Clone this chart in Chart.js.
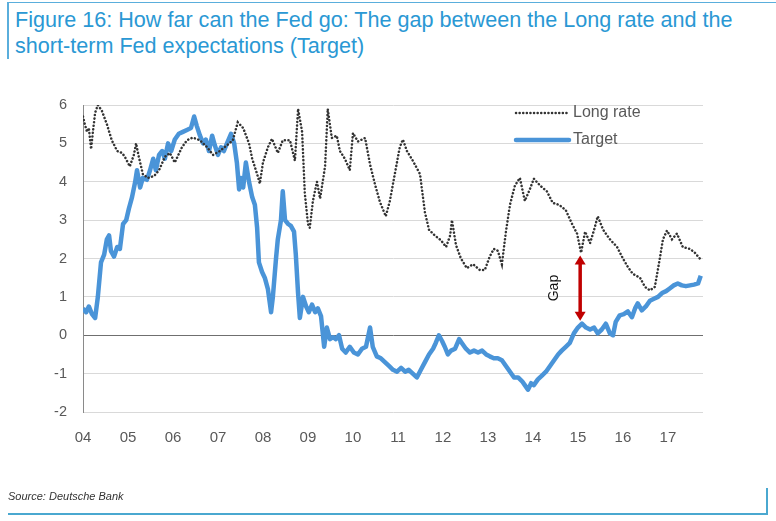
<!DOCTYPE html>
<html>
<head>
<meta charset="utf-8">
<script src="https://cdn.jsdelivr.net/npm/chart.js@4.4.1/dist/chart.umd.min.js"></script>
<style>
  html, body { margin: 0; padding: 0; background: #fff; }
  body { width: 776px; height: 521px; position: relative; overflow: hidden; font-family: "Liberation Sans", Arial, sans-serif; }
  #title { position: absolute; left: 15px; top: 7px; font-size: 21.6px; line-height: 26px; color: #2a98d4; white-space: nowrap; }
  #topline { position: absolute; left: 7px; top: 2px; width: 769px; height: 0; border-top: 1.5px solid #5aaedc; }
  #leftline { position: absolute; left: 7px; top: 2px; width: 0; height: 57px; border-left: 2px solid #5aaedc; }
  #source { position: absolute; left: 8px; top: 490px; font-size: 11px; font-style: italic; color: #333; }
  #bottomline { position: absolute; left: 8px; top: 513px; width: 760px; height: 0; border-top: 2.5px solid #4aa8d0; }
  #rightline { position: absolute; left: 766px; top: 488px; width: 0; height: 27px; border-left: 2.5px solid #4aa8d0; }
  #wrap { position: absolute; left: 0; top: 0; width: 776px; height: 521px; }
</style>
</head>
<body>
<div id="topline"></div>
<div id="leftline"></div>
<div id="title">Figure 16: How far can the Fed go: The gap between the Long rate and the<br>short-term Fed expectations (Target)</div>
<div id="wrap"><canvas id="c"></canvas></div>
<div id="source">Source: Deutsche Bank</div>
<div id="bottomline"></div>
<div id="rightline"></div>
<script>
const seriesNames = ["Long rate", "Target"];
const yearTicks = [2004,2005,2006,2007,2008,2009,2010,2011,2012,2013,2014,2015,2016,2017];

const targetDates = [2004.00,2004.07,2004.13,2004.20,2004.27,2004.33,2004.40,2004.47,2004.53,2004.58,2004.62,2004.69,2004.76,2004.82,2004.89,2004.96,
2005.02,2005.09,2005.16,2005.20,2005.27,2005.33,2005.42,2005.49,2005.56,2005.62,2005.69,2005.76,2005.82,2005.89,2005.96,
2006.04,2006.13,2006.22,2006.31,2006.40,2006.47,2006.53,2006.60,2006.67,2006.73,2006.80,2006.87,2006.93,
2007.00,2007.07,2007.13,2007.20,2007.29,2007.36,2007.42,2007.47,2007.51,2007.56,2007.62,2007.69,2007.76,2007.82,2007.87,2007.91,2007.98,
2008.04,2008.11,2008.18,2008.22,2008.29,2008.33,2008.40,2008.44,2008.49,2008.56,2008.62,2008.69,2008.73,2008.78,2008.82,2008.89,2008.96,
2009.02,2009.09,2009.16,2009.22,2009.29,2009.36,2009.42,2009.49,2009.56,2009.62,2009.69,2009.76,2009.84,2009.93,
2010.02,2010.11,2010.20,2010.29,2010.38,2010.44,2010.53,2010.62,2010.71,2010.80,2010.89,2010.98,
2011.07,2011.16,2011.24,2011.33,2011.42,2011.51,2011.60,2011.69,2011.78,2011.84,2011.91,2011.98,
2012.04,2012.11,2012.18,2012.27,2012.36,2012.42,2012.51,2012.60,2012.69,2012.78,2012.87,2012.96,
2013.04,2013.13,2013.22,2013.31,2013.40,2013.49,2013.58,2013.67,2013.76,2013.82,2013.89,2013.96,
2014.02,2014.11,2014.20,2014.29,2014.38,2014.47,2014.56,2014.64,2014.73,2014.82,2014.91,
2015.00,2015.09,2015.18,2015.27,2015.36,2015.44,2015.53,2015.62,2015.71,2015.78,2015.84,2015.93,
2016.02,2016.11,2016.20,2016.27,2016.33,2016.42,2016.51,2016.60,2016.69,2016.78,2016.87,2016.96,
2017.04,2017.13,2017.22,2017.31,2017.40,2017.49,2017.58,2017.67,2017.73];

const targetValues = [0.7,0.6,0.75,0.55,0.45,1.0,1.9,2.1,2.5,2.6,2.2,2.05,2.3,2.25,2.9,3.0,
3.3,3.6,4.0,4.3,3.85,4.1,4.05,4.3,4.6,4.3,4.7,4.8,4.6,5.0,4.8,
5.1,5.25,5.3,5.35,5.4,5.7,5.45,5.2,5.0,5.1,4.8,5.2,4.95,
4.7,4.9,4.8,5.0,5.25,5.0,4.5,3.8,4.1,3.85,4.5,4.0,3.6,3.4,2.8,1.9,1.65,
1.5,1.2,0.6,1.0,2.0,2.5,3.0,3.75,3.0,2.9,2.85,2.7,2.1,1.1,0.45,1.0,0.75,
0.6,0.8,0.6,0.7,0.5,-0.3,0.2,-0.1,-0.05,-0.1,0.0,-0.35,-0.45,-0.3,
-0.45,-0.5,-0.35,-0.3,0.2,-0.3,-0.55,-0.6,-0.7,-0.8,-0.9,-0.95,
-0.85,-0.95,-0.9,-1.0,-1.1,-0.9,-0.7,-0.5,-0.35,-0.2,0.0,-0.15,
-0.3,-0.5,-0.4,-0.35,-0.1,-0.2,-0.35,-0.45,-0.4,-0.45,-0.4,-0.5,
-0.55,-0.6,-0.6,-0.65,-0.8,-0.95,-1.1,-1.1,-1.2,-1.3,-1.42,-1.25,
-1.3,-1.15,-1.05,-0.95,-0.8,-0.65,-0.5,-0.4,-0.3,-0.2,0.05,
0.2,0.3,0.2,0.15,0.2,0.05,0.15,0.3,0.05,0.0,0.35,0.52,
0.55,0.62,0.47,0.7,0.83,0.65,0.75,0.9,0.95,1.0,1.1,1.15,
1.22,1.3,1.35,1.3,1.28,1.3,1.32,1.35,1.55];

const longDates = [2004.00,2004.04,2004.09,2004.13,2004.18,2004.22,2004.27,2004.33,2004.42,2004.53,2004.64,2004.76,2004.87,2004.93,
2005.04,2005.13,2005.18,2005.24,2005.33,2005.44,2005.58,2005.69,2005.82,2005.93,
2006.04,2006.20,2006.31,2006.44,2006.60,2006.76,2006.89,
2007.04,2007.20,2007.33,2007.44,2007.56,2007.69,2007.76,2007.87,2007.93,
2008.00,2008.11,2008.20,2008.33,2008.44,2008.60,2008.71,2008.78,2008.87,2008.93,
2009.00,2009.04,2009.11,2009.20,2009.27,2009.38,2009.44,2009.53,2009.64,2009.71,2009.82,2009.93,
2010.00,2010.11,2010.27,2010.38,2010.49,2010.60,2010.73,2010.82,2010.93,
2011.04,2011.11,2011.20,2011.33,2011.49,2011.60,2011.69,2011.82,2011.96,
2012.07,2012.16,2012.20,2012.29,2012.40,2012.53,2012.67,2012.82,2012.93,
2013.04,2013.13,2013.22,2013.31,2013.40,2013.49,2013.60,2013.71,2013.82,2013.93,
2014.02,2014.16,2014.31,2014.44,2014.58,2014.73,2014.87,2014.98,
2015.07,2015.16,2015.27,2015.36,2015.44,2015.56,2015.71,2015.87,
2016.00,2016.11,2016.22,2016.38,2016.49,2016.60,2016.71,2016.82,2016.89,2016.98,
2017.09,2017.20,2017.33,2017.49,2017.60,2017.71];

const longValues = [5.7,5.5,5.3,5.4,4.85,5.3,5.8,6.0,5.85,5.5,5.08,4.8,4.75,4.65,
4.4,4.7,5.0,4.65,4.2,4.1,4.15,4.3,4.65,4.75,
4.5,4.9,5.08,5.15,5.08,4.9,4.7,
4.8,4.95,5.08,5.55,5.4,5.0,4.6,4.2,3.95,
4.5,4.9,5.12,4.75,5.08,5.08,4.55,5.9,5.3,3.7,
2.9,2.8,3.5,4.0,3.56,4.4,5.9,5.14,5.2,4.8,4.6,4.3,
5.27,5.05,5.14,4.45,3.93,3.47,3.1,3.5,4.2,
4.9,5.1,4.8,4.55,4.2,3.2,2.75,2.6,2.47,
2.3,2.6,3.0,2.35,2.0,1.75,1.85,1.7,1.7,
2.05,2.25,2.2,1.85,2.7,3.4,3.9,4.1,3.5,3.8,
4.08,3.9,3.75,3.45,3.4,3.26,2.9,2.65,
2.15,2.7,2.4,2.75,3.1,2.75,2.5,2.3,
2.0,1.78,1.6,1.5,1.26,1.17,1.26,2.0,2.5,2.73,
2.5,2.65,2.3,2.25,2.15,2.0];

const gapDate = [2015.05];
const gapRange = [2.08, 0.38];
const gapLabel = ["Gap"];

const BLUE = "#4a94d8";
const DOT = "#333333";
const FONT = '"Liberation Sans", Arial, sans-serif';

const annotations = {
  id: "annotations",
  afterDatasetsDraw(chart) {
    const ctx = chart.ctx;
    const xs = chart.scales.x, ys = chart.scales.y;
    ctx.save();
    const ax = xs.getPixelForValue(gapDate[0]);
    const y1 = ys.getPixelForValue(gapRange[0]);
    const y2 = ys.getPixelForValue(gapRange[1]);
    ctx.strokeStyle = "#c00000";
    ctx.fillStyle = "#c00000";
    ctx.lineWidth = 3.5;
    ctx.beginPath();
    ctx.moveTo(ax, y1 + 7);
    ctx.lineTo(ax, y2 - 7);
    ctx.stroke();
    ctx.beginPath();
    ctx.moveTo(ax, y1); ctx.lineTo(ax - 5.5, y1 + 9); ctx.lineTo(ax + 5.5, y1 + 9); ctx.closePath(); ctx.fill();
    ctx.beginPath();
    ctx.moveTo(ax, y2); ctx.lineTo(ax - 5.5, y2 - 9); ctx.lineTo(ax + 5.5, y2 - 9); ctx.closePath(); ctx.fill();
    ctx.save();
    ctx.translate(ax - 26, (y1 + y2) / 2);
    ctx.rotate(-Math.PI / 2);
    ctx.fillStyle = "#111";
    ctx.font = '14px ' + FONT;
    ctx.textAlign = "center";
    ctx.textBaseline = "middle";
    ctx.fillText(gapLabel[0], 0, 0);
    ctx.restore();

    const lx0 = 516, lx1 = 569, tx = 573;
    const ly = [113, 140];
    ctx.lineCap = "round";
    ctx.strokeStyle = DOT;
    ctx.lineWidth = 2.5;
    ctx.setLineDash([0.1, 3.5]);
    ctx.beginPath(); ctx.moveTo(lx0, ly[0]); ctx.lineTo(lx1, ly[0]); ctx.stroke();
    ctx.setLineDash([]);
    ctx.strokeStyle = BLUE;
    ctx.lineWidth = 4.5;
    ctx.beginPath(); ctx.moveTo(lx0, ly[1]); ctx.lineTo(lx1, ly[1]); ctx.stroke();
    ctx.fillStyle = "#595959";
    ctx.font = '16px ' + FONT;
    ctx.textAlign = "left";
    ctx.textBaseline = "middle";
    ctx.fillText(seriesNames[0], tx, ly[0]);
    ctx.fillText(seriesNames[1], tx, ly[1]);
    ctx.restore();
  }
};

new Chart(document.getElementById("c"), {
  type: "line",
  data: {
    datasets: [
      {
        label: seriesNames[0],
        data: longDates.map((d, i) => ({ x: d, y: longValues[i] })),
        borderColor: DOT,
        borderWidth: 2.5,
        borderDash: [0.1, 3.5],
        borderCapStyle: "round",
        pointRadius: 0,
        tension: 0,
        fill: false
      },
      {
        label: seriesNames[1],
        data: targetDates.map((d, i) => ({ x: d, y: targetValues[i] })),
        borderColor: BLUE,
        borderWidth: 4.5,
        borderJoinStyle: "round",
        pointRadius: 0,
        tension: 0,
        fill: false
      }
    ]
  },
  options: {
    responsive: true,
    maintainAspectRatio: false,
    animation: false,
    layout: { padding: { left: 0, top: 105, right: 73, bottom: 69 } },
    plugins: { legend: { display: false }, tooltip: { enabled: false } },
    scales: {
      x: {
        type: "linear",
        min: 2004,
        max: 2017.78,
        afterBuildTicks(scale) { scale.ticks = yearTicks.map(v => ({ value: v })); },
        afterFit(scale) { scale.height = 40; },
        grid: { display: false, drawTicks: false },
        border: { display: false },
        ticks: {
          padding: 17,
          color: "#595959",
          font: { size: 15, family: FONT },
          maxRotation: 0,
          autoSkip: false,
          callback: v => String(v).slice(2)
        }
      },
      y: {
        min: -2,
        max: 6,
        afterFit(scale) { scale.width = 83; },
        ticks: {
          stepSize: 1,
          padding: 16,
          color: "#595959",
          font: { size: 14.5, family: FONT }
        },
        grid: {
          drawTicks: false,
          color: ctx => (ctx.tick && ctx.tick.value === 0) ? "#6f6f6f" : "#d9d9d9",
          lineWidth: 1
        },
        border: { display: true, color: "#8a8a8a", width: 1 }
      }
    }
  },
  plugins: [annotations]
});
</script>
</body>
</html>
